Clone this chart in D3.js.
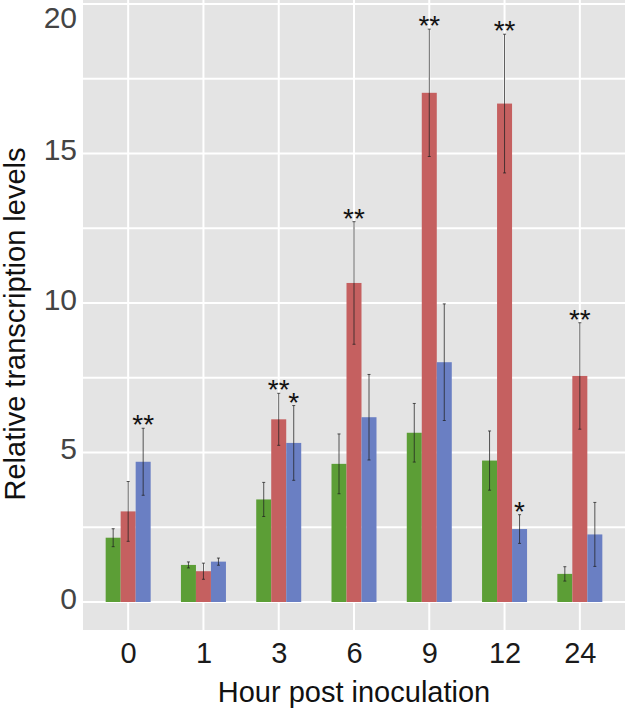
<!DOCTYPE html>
<html>
<head>
<meta charset="utf-8">
<script src="https://cdn.jsdelivr.net/npm/d3@7"></script>
<style>
  body { margin: 0; background: #fff; }
  text { font-family: "Liberation Sans", Arial, Helvetica, sans-serif; }
</style>
</head>
<body>
<div id="chart"></div>
<script>
// hours (x categories) and the three series
var hours = ["0", "1", "3", "6", "9", "12", "24"];
var series = ["green", "red", "blue"];
var colors = ["#5c9e36", "#c56060", "#6a7fc3"];

// mean values
var greenVals = [2.15, 1.24, 3.43, 4.62, 5.66, 4.73, 0.94];
var redVals   = [3.03, 1.03, 6.11, 10.67, 17.03, 16.67, 7.56];
var blueVals  = [4.69, 1.35, 5.32, 6.18, 8.02, 2.44, 2.26];

// error (+/-)
var greenErr = [0.30, 0.10, 0.57, 1.00, 0.98, 0.99, 0.24];
var redErr   = [1.00, 0.27, 0.87, 2.05, 2.13, 2.32, 1.78];
var blueErr  = [1.12, 0.12, 1.25, 1.43, 1.95, 0.48, 1.07];

// significance marks
var greenSig = ["", "", "", "", "", "", ""];
var redSig   = ["", "", "**", "**", "**", "**", "**"];
var blueSig  = ["**", "", "*", "", "", "*", ""];

var yTicks = [0, 5, 10, 15, 20];

var width = 625, height = 710;
var panel = {left: 83, right: 625, top: 0, bottom: 630};

var svg = d3.select("#chart").append("svg")
    .attr("width", width)
    .attr("height", height);

var y = d3.scaleLinear().domain([0, 20]).range([602, 4]);

// discrete axis, 0.6 units of padding on both sides like ggplot
var x = d3.scalePoint().domain(hours)
    .range([panel.left, panel.right]).padding(0.6);

var xInner = d3.scaleBand().domain(series).range([-22.5, 22.5]);

// grey panel
svg.append("rect")
    .attr("x", panel.left).attr("y", panel.top)
    .attr("width", panel.right - panel.left)
    .attr("height", panel.bottom - panel.top)
    .attr("fill", "#e4e4e4");

// horizontal grid (major + minor)
var gridVals = [0, 2.5, 5, 7.5, 10, 12.5, 15, 17.5, 20];
svg.append("g").selectAll("line").data(gridVals).enter().append("line")
    .attr("x1", panel.left).attr("x2", panel.right)
    .attr("y1", function(d) { return y(d); })
    .attr("y2", function(d) { return y(d); })
    .attr("stroke", "#fff").attr("stroke-width", 2);

// vertical grid at each category
svg.append("g").selectAll("line").data(hours).enter().append("line")
    .attr("x1", function(d) { return x(d); })
    .attr("x2", function(d) { return x(d); })
    .attr("y1", panel.top).attr("y2", panel.bottom)
    .attr("stroke", "#fff").attr("stroke-width", 2);

// build rows for the bars
var vals = [greenVals, redVals, blueVals];
var errs = [greenErr, redErr, blueErr];
var sigs = [greenSig, redSig, blueSig];
var rows = [];
hours.forEach(function(h, i) {
  series.forEach(function(s, j) {
    rows.push({hour: h, s: s, color: colors[j],
               v: vals[j][i], e: errs[j][i], sig: sigs[j][i]});
  });
});

var bars = svg.append("g");
bars.selectAll("rect").data(rows).enter().append("rect")
    .attr("x", function(d) { return x(d.hour) + xInner(d.s); })
    .attr("width", xInner.bandwidth())
    .attr("y", function(d) { return y(d.v); })
    .attr("height", function(d) { return y(0) - y(d.v); })
    .attr("fill", function(d) { return d.color; });

// error bars
var eb = svg.append("g")
    .attr("stroke", "#222").attr("stroke-opacity", 0.75).attr("stroke-width", 1);
rows.forEach(function(d) {
  var cx = x(d.hour) + xInner(d.s) + xInner.bandwidth() / 2;
  var t = y(d.v + d.e), b = y(d.v - d.e);
  eb.append("line").attr("x1", cx).attr("x2", cx).attr("y1", t).attr("y2", b);
  eb.append("line").attr("x1", cx - 1.5).attr("x2", cx + 1.5).attr("y1", t).attr("y2", t);
  eb.append("line").attr("x1", cx - 1.5).attr("x2", cx + 1.5).attr("y1", b).attr("y2", b);
});

// asterisks
svg.append("g").selectAll("text").data(rows.filter(function(d) { return d.sig; }))
  .enter().append("text")
    .attr("x", function(d) { return x(d.hour) + xInner(d.s) + xInner.bandwidth() / 2; })
    .attr("y", function(d) { return y(d.v + d.e) + 6; })
    .attr("text-anchor", "middle")
    .attr("font-size", 28)
    .attr("fill", "#111")
    .text(function(d) { return d.sig; });

// y axis labels
var yAxis = d3.axisLeft(y).tickValues(yTicks).tickSize(0).tickPadding(6);
var gy = svg.append("g").attr("transform", "translate(" + panel.left + ",0)").call(yAxis);
gy.select(".domain").remove();
gy.selectAll("text")
    .attr("font-size", 30).attr("fill", "#444").attr("dy", null)
    .attr("font-family", "Liberation Sans, Arial, sans-serif")
    .attr("y", function(d) { return Math.max(0, 21 - y(d)) + 6; });

// x axis labels
var xAxis = d3.axisBottom(x).tickSize(0).tickPadding(0);
var gx = svg.append("g").attr("transform", "translate(0," + panel.bottom + ")").call(xAxis);
gx.select(".domain").remove();
gx.selectAll("text")
    .attr("font-size", 29).attr("fill", "#1a1a1a").attr("dy", null)
    .attr("font-family", "Liberation Sans, Arial, sans-serif")
    .attr("y", 33);

// axis titles
svg.append("text")
    .attr("x", (panel.left + panel.right) / 2).attr("y", 702)
    .attr("text-anchor", "middle").attr("font-size", 29).attr("fill", "#111")
    .text("Hour post inoculation");

svg.append("text")
    .attr("transform", "translate(25," + 324 + ") rotate(-90)")
    .attr("text-anchor", "middle").attr("font-size", 29).attr("fill", "#111")
    .text("Relative transcription levels");
</script>
</body>
</html>
